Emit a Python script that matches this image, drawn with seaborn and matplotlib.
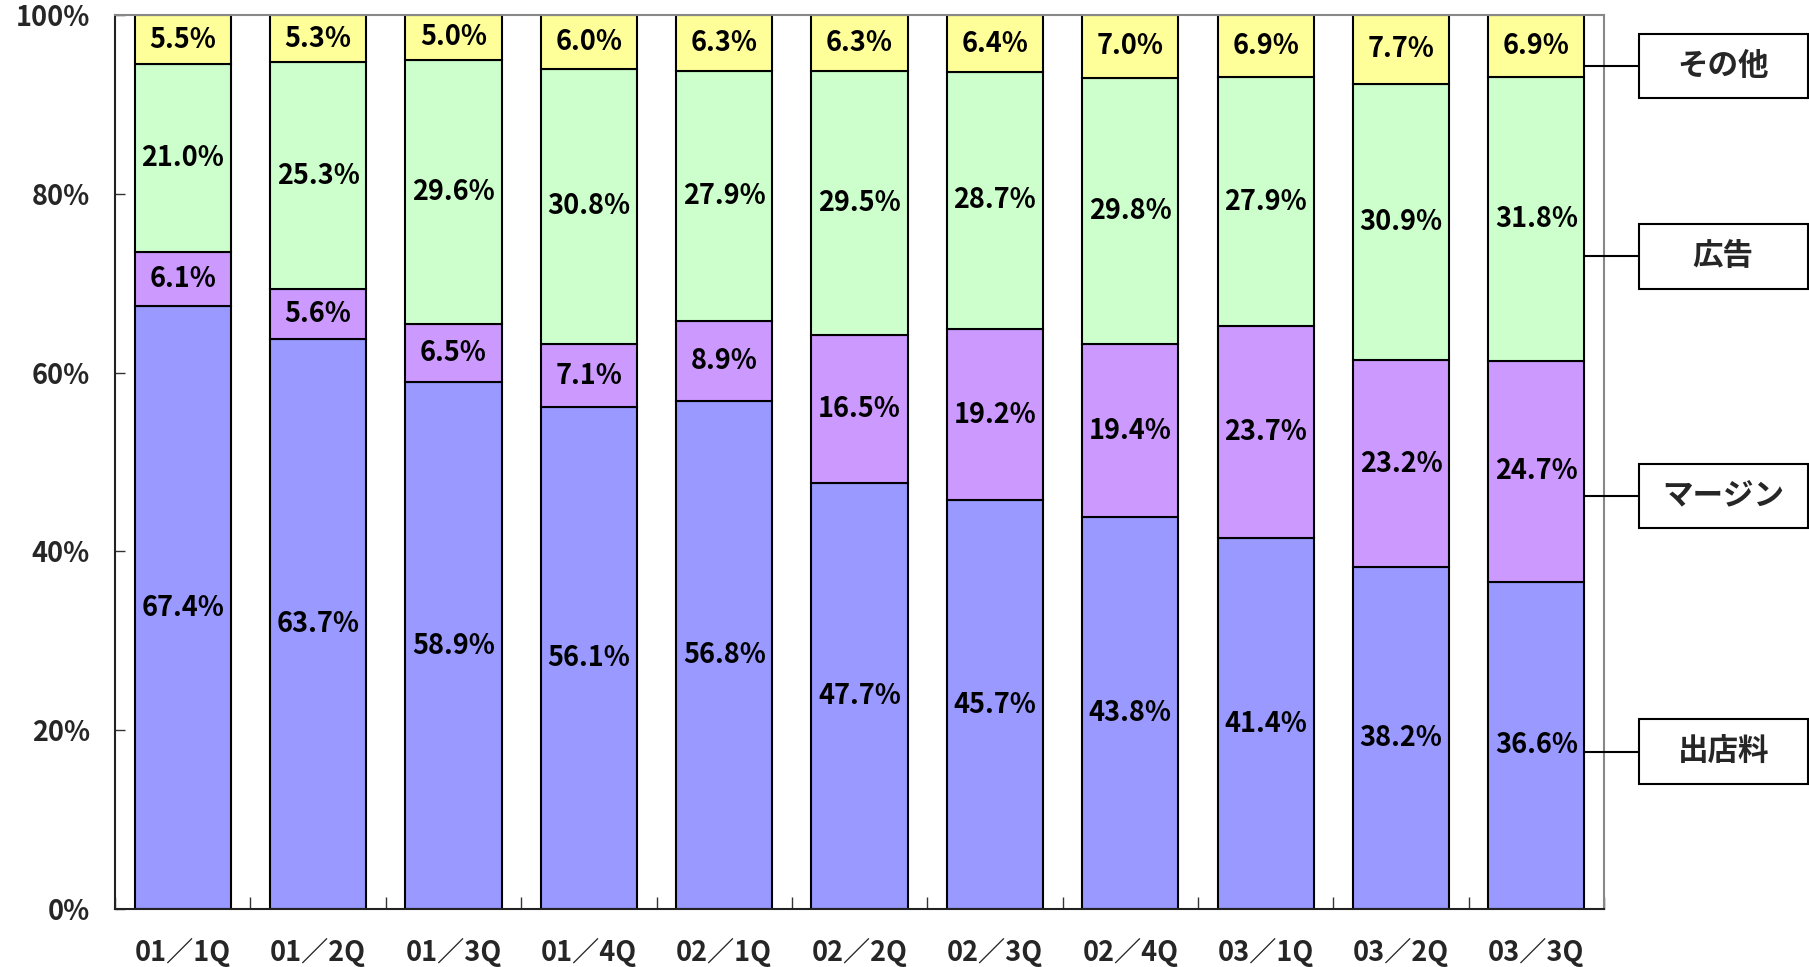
import numpy as np
import pandas as pd
import matplotlib
matplotlib.use('Agg')
import matplotlib.pyplot as plt
from matplotlib.patches import Rectangle
import seaborn as sns

# Data (share of revenue, %)
quarters = ['01／1Q', '01／2Q', '01／3Q', '01／4Q', '02／1Q', '02／2Q',
            '02／3Q', '02／4Q', '03／1Q', '03／2Q', '03／3Q']
fee = [67.4, 63.7, 58.9, 56.1, 56.8, 47.7, 45.7, 43.8, 41.4, 38.2, 36.6]
margin = [6.1, 5.6, 6.5, 7.1, 8.9, 16.5, 19.2, 19.4, 23.7, 23.2, 24.7]
ads = [21.0, 25.3, 29.6, 30.8, 27.9, 29.5, 28.7, 29.8, 27.9, 30.9, 31.8]
other = [5.5, 5.3, 5.0, 6.0, 6.3, 6.3, 6.4, 7.0, 6.9, 7.7, 6.9]

series_names = ['出店料', 'マージン', '広告', 'その他']
series_colors = ['#9999FF', '#CC99FF', '#CCFFCC', '#FFFF99']
legend_y = [17.6, 46.2, 73.0, 94.3]  # where the callout lines meet the boxes

sns.set_theme(style='white')
plt.rcParams['font.family'] = ['Noto Sans CJK JP', 'DejaVu Sans']
plt.rcParams['font.weight'] = 'bold'

df = pd.DataFrame({'quarter': quarters, '出店料': fee, 'マージン': margin,
                   '広告': ads, 'その他': other})
total = df[series_names].sum(axis=1)

fig = plt.figure(figsize=(18.09, 9.67), dpi=100)
ax = fig.add_axes([0.0636, 0.060, 0.8231, 0.9245])

bottom = np.zeros(len(df))
for name, color in zip(series_names, series_colors):
    height = df[name] / total * 100
    sns.barplot(x=df['quarter'], y=height, bottom=bottom, color=color,
                saturation=1, width=0.71, edgecolor='black', linewidth=1.5,
                ax=ax, zorder=2)
    for i, (b, h, v) in enumerate(zip(bottom, height, df[name])):
        ax.text(i, b + h / 2, f'{v:.1f}%', ha='center', va='center',
                fontsize=19.5, fontweight='bold', color='black', zorder=3)
    bottom = bottom + height.to_numpy()

n = len(quarters)
ax.set_xlim(-0.5, n - 0.5)
ax.set_ylim(0, 100)
ax.set_xlabel('')
ax.set_ylabel('')

# y axis
ax.set_yticks(np.arange(0, 101, 20))
ax.set_yticklabels([f'{t}%' for t in range(0, 101, 20)], fontsize=19.5, fontweight='bold')
ax.tick_params(axis='y', direction='in', length=7, width=1, color='#333333', pad=18, left=True)

# x axis: tick marks at category boundaries, labels at centers
ax.set_xticks(np.arange(n))
ax.set_xticklabels(quarters, fontsize=19.5, fontweight='bold')
ax.tick_params(axis='x', which='major', length=0, pad=21)
ax.set_xticks(np.arange(-0.5, n, 1), minor=True)
ax.tick_params(axis='x', which='minor', direction='in', length=9, width=1,
               color='#333333', bottom=True)

for side in ['left', 'bottom']:
    ax.spines[side].set_color('#222222')
    ax.spines[side].set_linewidth(1.5)
for side in ['top', 'right']:
    ax.spines[side].set_color('#888888')
    ax.spines[side].set_linewidth(1.5)

# callout legend on the right
bar_right = (n - 1) + 0.71 / 2
box_left = n - 0.245
box_w = 1.25
box_h = 7.2
for name, y in zip(series_names, legend_y):
    ax.plot([bar_right, box_left], [y, y], color='black', lw=1.5,
            clip_on=False, zorder=4)
    ax.add_patch(Rectangle((box_left, y - box_h / 2), box_w, box_h,
                           facecolor='white', edgecolor='black', lw=1.5,
                           clip_on=False, zorder=4))
    ax.text(box_left + box_w / 2, y, name, ha='center', va='center',
            fontsize=22, fontweight='bold', zorder=5, clip_on=False)

plt.savefig('out.png', dpi=100)
plt.close()
